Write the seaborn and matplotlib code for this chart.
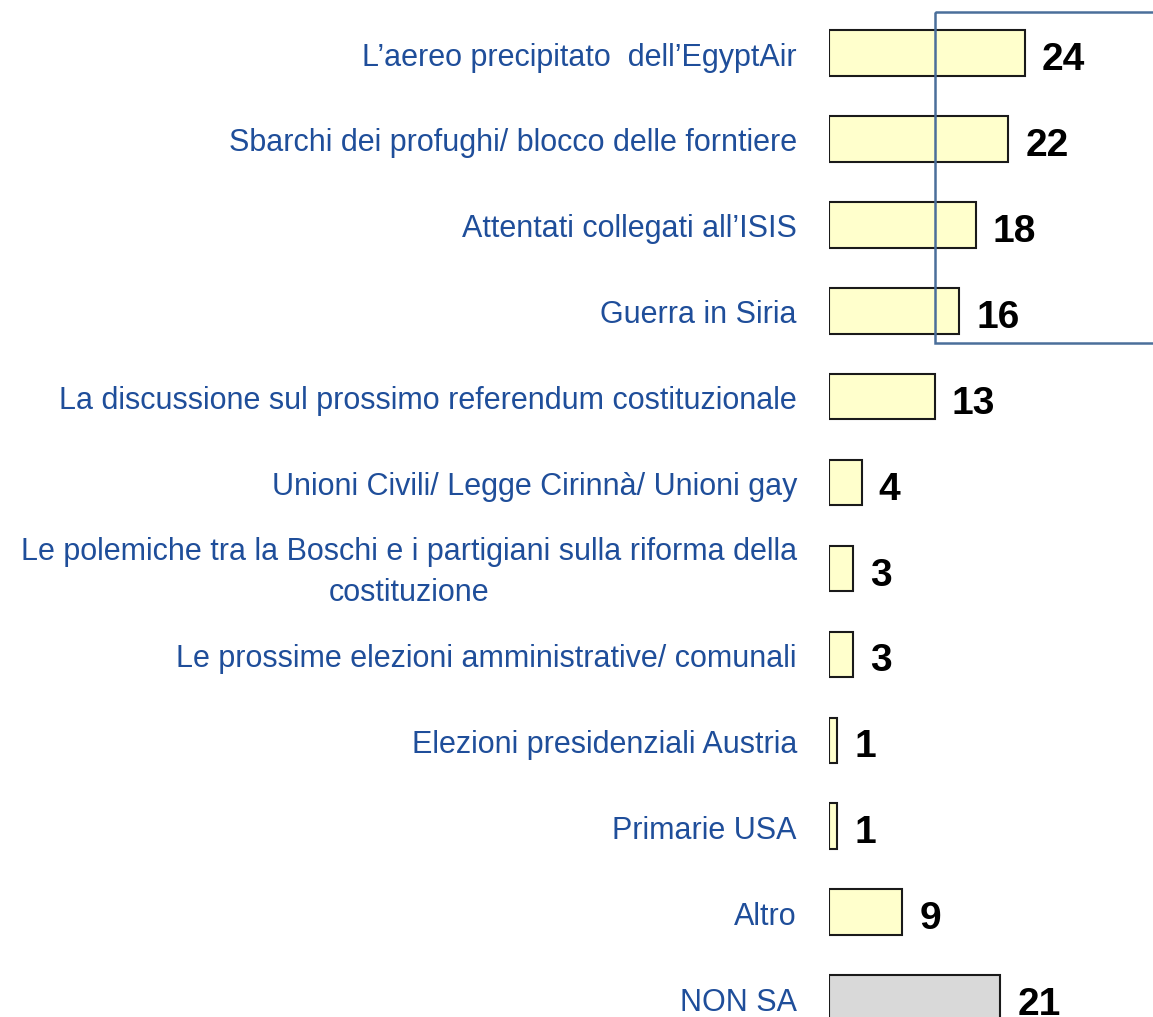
import matplotlib
matplotlib.use("Agg")
import matplotlib.pyplot as plt
import matplotlib.patches as mpatches
import seaborn as sns
import pandas as pd

categories = [
    "L\u2019aereo precipitato  dell\u2019EgyptAir",
    "Sbarchi dei profughi/ blocco delle forntiere",
    "Attentati collegati all\u2019ISIS",
    "Guerra in Siria",
    "La discussione sul prossimo referendum costituzionale",
    "Unioni Civili/ Legge Cirinn\u00e0/ Unioni gay",
    "Le polemiche tra la Boschi e i partigiani sulla riforma della\ncostituzione",
    "Le prossime elezioni amministrative/ comunali",
    "Elezioni presidenziali Austria",
    "Primarie USA",
    "Altro",
    "NON SA",
]
values = [24, 22, 18, 16, 13, 4, 3, 3, 1, 1, 9, 21]
groups = ["topic"] * 11 + ["nonsa"]

df = pd.DataFrame({"cat": categories, "val": values, "grp": groups})

sns.set_theme(style="white")
plt.rcParams['font.family'] = ['Liberation Sans Narrow', 'Liberation Sans', 'DejaVu Sans']

fig = plt.figure(figsize=(11.53, 10.17), dpi=100)
ax = fig.add_axes([829 / 1153, 0, 1 - 829 / 1153, 1])

sns.barplot(data=df, y="cat", x="val", hue="grp", orient="h",
            palette={"topic": "#FFFFCC", "nonsa": "#D9D9D9"},
            saturation=1, dodge=False, width=0.53,
            edgecolor="#1a1a1a", linewidth=1.5,
            legend=False, ax=ax)

PX_X = 8.15   # pixels per unit
PX_Y = 85.9   # pixels per category step
ax.set_xlim(0, 324 / PX_X)
ax.set_ylim(11.22, -0.617)
ax.set_xlabel("")
ax.set_ylabel("")
ax.set_xticks([])
ax.set_yticks([])
for s in ax.spines.values():
    s.set_visible(False)

for i, (c, v) in enumerate(zip(categories, values)):
    if "\n" in c:
        ax.text(-32 / PX_X, i + 32 / PX_Y, c, ha="right", va="baseline",
                multialignment="center", fontsize=22, color="#1F4E9A",
                linespacing=1.47)
    else:
        ax.text(-32 / PX_X, i + 12.5 / PX_Y, c, ha="right", va="baseline",
                fontsize=22, color="#1F4E9A")
    ax.text(v + 17 / PX_X, i + 17 / PX_Y, str(v), ha="left", va="baseline",
            fontsize=28, fontweight="bold", color="black")

rect = mpatches.Rectangle((13.0, -0.477), 40, 3.853, fill=False,
                          edgecolor="#4A6F9A", linewidth=1.8, clip_on=False, zorder=5)
ax.add_patch(rect)

fig.savefig("out.png", dpi=100)
